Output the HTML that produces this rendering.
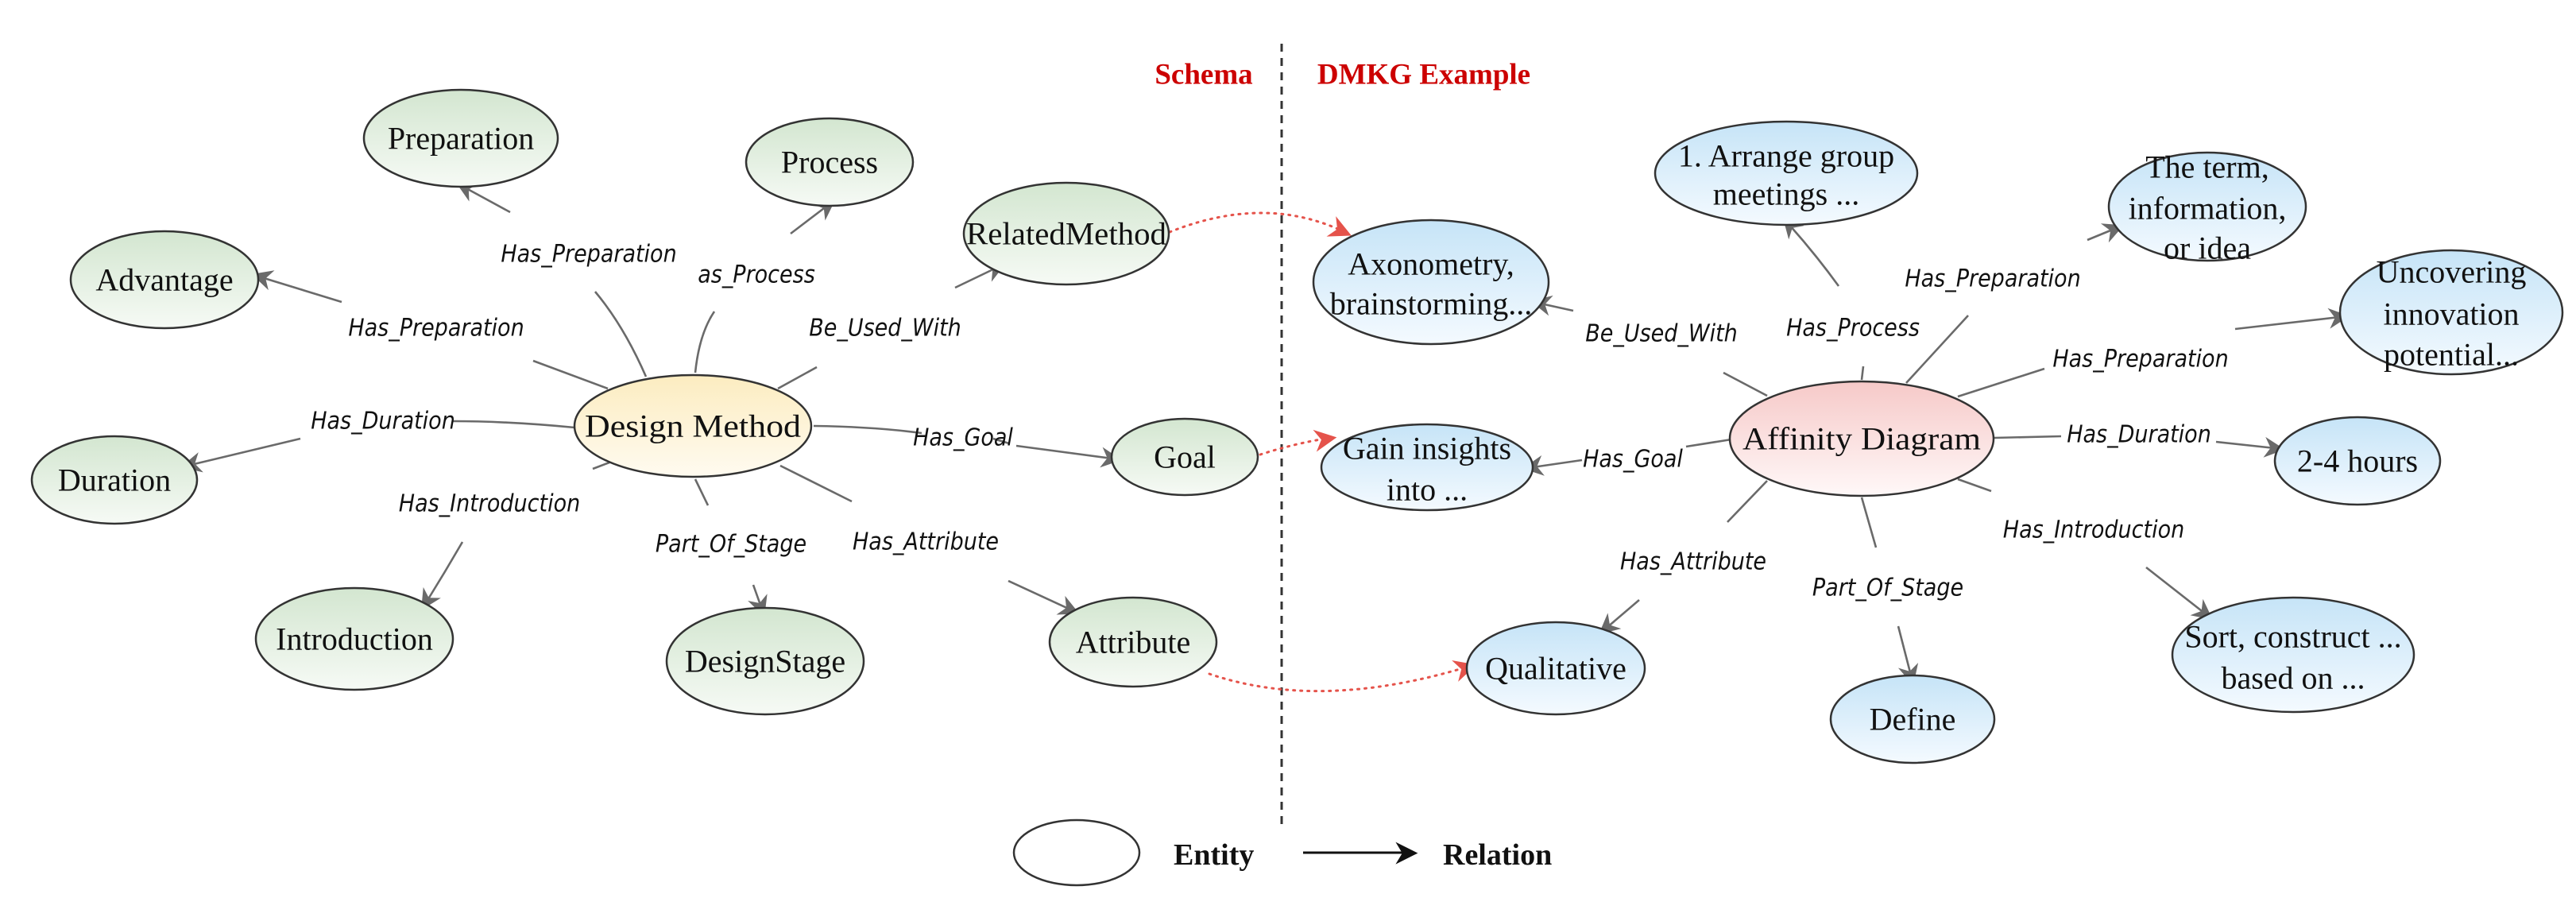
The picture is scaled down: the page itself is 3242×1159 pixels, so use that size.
<!DOCTYPE html>
<html><head><meta charset="utf-8"><style>
html,body{margin:0;padding:0;background:#fff;}
svg{display:block;}
.n{font-family:"Liberation Serif",serif;font-size:40px;fill:#111;text-anchor:middle;dominant-baseline:central;}
.l{font-family:"DejaVu Sans Condensed","DejaVu Sans",sans-serif;font-style:oblique;font-size:30px;fill:#111;text-anchor:middle;dominant-baseline:central;}
.e{stroke:#6a6a6a;stroke-width:2.6;fill:none;}
.a{stroke:#6a6a6a;stroke-width:2.6;fill:none;marker-end:url(#ar);}
.g{fill:url(#gg);stroke:#333;stroke-width:2.5;}
.b{fill:url(#gb);stroke:#333;stroke-width:2.5;}
.r{stroke:#e5534b;stroke-width:3;fill:none;stroke-dasharray:2 7;stroke-linecap:round;marker-end:url(#rr);}
</style></head><body>
<svg width="3242" height="1159" viewBox="0 0 3242 1159" xmlns="http://www.w3.org/2000/svg">
<defs>
<linearGradient id="gg" x1="0" y1="0" x2="0" y2="1"><stop offset="0" stop-color="#d3e6d0"/><stop offset="1" stop-color="#f6faf5"/></linearGradient>
<linearGradient id="gb" x1="0" y1="0" x2="0" y2="1"><stop offset="0" stop-color="#c6e4f7"/><stop offset="1" stop-color="#f4faff"/></linearGradient>
<linearGradient id="gy" x1="0" y1="0" x2="0" y2="1"><stop offset="0" stop-color="#fcecc0"/><stop offset="1" stop-color="#fffbf0"/></linearGradient>
<linearGradient id="gp" x1="0" y1="0" x2="0" y2="1"><stop offset="0" stop-color="#f6c9c8"/><stop offset="1" stop-color="#fff8f8"/></linearGradient>
<marker id="ar" markerWidth="10" markerHeight="10" refX="8" refY="5" orient="auto" markerUnits="userSpaceOnUse" viewBox="0 0 10 10" style="overflow:visible">
<path d="M0,0 L10,5 L0,10 L3,5 Z" fill="#6a6a6a" transform="scale(2.6) translate(-2,-3)"/></marker>
<marker id="rr" markerWidth="10" markerHeight="10" refX="8" refY="5" orient="auto" markerUnits="userSpaceOnUse" viewBox="0 0 10 10" style="overflow:visible">
<path d="M0,0 L10,5 L0,10 L3,5 Z" fill="#e5534b" transform="scale(2.8) translate(-2,-3)"/></marker>
<marker id="lg" markerWidth="10" markerHeight="10" refX="8" refY="5" orient="auto" markerUnits="userSpaceOnUse" viewBox="0 0 10 10" style="overflow:visible">
<path d="M0,0 L10,5 L0,10 L3,5 Z" fill="#111" transform="scale(2.8) translate(-2,-3)"/></marker>
</defs>

<line x1="1613" y1="55" x2="1613" y2="1040" stroke="#333" stroke-width="3" stroke-dasharray="10 8"/>
<text x="1515" y="94" font-family="Liberation Serif,serif" font-weight="bold" font-size="37" fill="#cc0000" text-anchor="middle" dominant-baseline="central">Schema</text>
<text x="1792" y="94" font-family="Liberation Serif,serif" font-weight="bold" font-size="37" fill="#cc0000" text-anchor="middle" dominant-baseline="central">DMKG Example</text>

<path class="e" d="M813,474 Q785,410 749,367"/>
<path class="a" d="M642,267 L585,236"/>
<path class="e" d="M875,469 Q880,420 899,392"/>
<path class="a" d="M995,294 L1041,259"/>
<path class="e" d="M765,489 L671,454"/>
<path class="a" d="M430,380 L329,349"/>
<path class="e" d="M979,489 L1028,462"/>
<path class="a" d="M1202,362 L1254,337"/>
<path class="e" d="M723,538 Q640,530 570,530"/>
<path class="a" d="M378,552 L240,585"/>
<path class="e" d="M1024,536 Q1100,537 1160,545"/>
<path class="e" d="M1250,552 L1270,558"/>
<path class="a" d="M1279,561 L1399,577"/>
<path class="e" d="M767,582 L746,590"/>
<path class="a" d="M582,682 Q560,720 537,757"/>
<path class="e" d="M875,603 L891,636"/>
<path class="a" d="M948,736 L958,764"/>
<path class="e" d="M982,586 L1072,631"/>
<path class="a" d="M1269,731 L1347,767"/>

<path class="e" d="M2345,461 L2343,478"/>
<path class="a" d="M2314,360 Q2285,320 2252,283"/>
<path class="e" d="M2399,482 L2477,397"/>
<path class="a" d="M2627,302 L2661,288"/>
<path class="e" d="M2464,499 L2573,464"/>
<path class="a" d="M2813,414 L2944,399"/>
<path class="e" d="M2224,498 L2169,469"/>
<path class="a" d="M1980,391 L1939,382"/>
<path class="e" d="M2179,553 L2122,562"/>
<path class="a" d="M1991,579 L1929,588"/>
<path class="e" d="M2509,551 L2594,549"/>
<path class="a" d="M2789,556 L2863,564"/>
<path class="e" d="M2464,603 L2506,618"/>
<path class="a" d="M2701,714 L2775,772"/>
<path class="e" d="M2343,626 L2361,689"/>
<path class="a" d="M2389,788 L2405,850"/>
<path class="e" d="M2224,605 L2174,657"/>
<path class="a" d="M2063,755 L2022,790"/>

<path class="r" d="M1472,292 Q1590,245 1688,290"/>
<path class="r" d="M1586,572 Q1630,558 1668,552"/>
<path class="r" d="M1522,848 Q1660,895 1844,840"/>

<ellipse class="g" cx="580" cy="174" rx="122" ry="61"/><text class="n" x="580" y="174">Preparation</text>
<ellipse class="g" cx="1044" cy="204" rx="105" ry="55"/><text class="n" x="1044" y="204">Process</text>
<ellipse class="g" cx="207" cy="352" rx="118" ry="61"/><text class="n" x="207" y="352">Advantage</text>
<ellipse class="g" cx="1342" cy="294" rx="129" ry="64"/><text class="n" x="1342" y="294" textLength="252" lengthAdjust="spacingAndGlyphs">RelatedMethod</text>
<ellipse cx="872" cy="536" rx="149" ry="64" fill="url(#gy)" stroke="#333" stroke-width="2.5"/><text class="n" x="872" y="536" textLength="272" lengthAdjust="spacingAndGlyphs">Design Method</text>
<ellipse class="g" cx="144" cy="604" rx="104" ry="55"/><text class="n" x="144" y="604">Duration</text>
<ellipse class="g" cx="1491" cy="575" rx="92" ry="48"/><text class="n" x="1491" y="575">Goal</text>
<ellipse class="g" cx="446" cy="804" rx="124" ry="64"/><text class="n" x="446" y="804">Introduction</text>
<ellipse class="g" cx="963" cy="832" rx="124" ry="67"/><text class="n" x="963" y="832">DesignStage</text>
<ellipse class="g" cx="1426" cy="808" rx="105" ry="56"/><text class="n" x="1426" y="808">Attribute</text>

<ellipse class="b" cx="2248" cy="218" rx="165" ry="65"/><text class="n" x="2248" y="196">1. Arrange group</text><text class="n" x="2248" y="244">meetings ...</text>
<ellipse class="b" cx="2778" cy="260" rx="124" ry="68"/><text class="n" x="2778" y="210">The term,</text><text class="n" x="2778" y="262">information,</text><text class="n" x="2778" y="312">or idea</text>
<ellipse class="b" cx="1801" cy="355" rx="148" ry="78"/><text class="n" x="1801" y="332">Axonometry,</text><text class="n" x="1801" y="382">brainstorming...</text>
<ellipse class="b" cx="3085" cy="393" rx="140" ry="78"/><text class="n" x="3085" y="342">Uncovering</text><text class="n" x="3085" y="395">innovation</text><text class="n" x="3085" y="446">potential...</text>
<ellipse cx="2343" cy="552" rx="166" ry="72" fill="url(#gp)" stroke="#333" stroke-width="2.5"/><text class="n" x="2343" y="552" textLength="300" lengthAdjust="spacingAndGlyphs">Affinity Diagram</text>
<ellipse class="b" cx="1796" cy="588" rx="133" ry="54"/><text class="n" x="1796" y="564">Gain insights</text><text class="n" x="1796" y="616">into ...</text>
<ellipse class="b" cx="2967" cy="580" rx="104" ry="55"/><text class="n" x="2967" y="580">2-4 hours</text>
<ellipse class="b" cx="1958" cy="841" rx="112" ry="58"/><text class="n" x="1958" y="841">Qualitative</text>
<ellipse class="b" cx="2407" cy="905" rx="103" ry="55"/><text class="n" x="2407" y="905">Define</text>
<ellipse class="b" cx="2886" cy="824" rx="152" ry="72"/><text class="n" x="2886" y="801">Sort, construct ...</text><text class="n" x="2886" y="853">based on  ...</text>

<text class="l" x="741" y="320">Has_Preparation</text>
<text class="l" x="952" y="346">as_Process</text>
<text class="l" x="549" y="413">Has_Preparation</text>
<text class="l" x="1114" y="413">Be_Used_With</text>
<text class="l" x="482" y="530">Has_Duration</text>
<text class="l" x="1212" y="551">Has_Goal</text>
<text class="l" x="616" y="634">Has_Introduction</text>
<text class="l" x="920" y="685">Part_Of_Stage</text>
<text class="l" x="1165" y="682">Has_Attribute</text>

<text class="l" x="2332" y="413">Has_Process</text>
<text class="l" x="2508" y="351">Has_Preparation</text>
<text class="l" x="2694" y="452">Has_Preparation</text>
<text class="l" x="2091" y="420">Be_Used_With</text>
<text class="l" x="2055" y="578">Has_Goal</text>
<text class="l" x="2692" y="547">Has_Duration</text>
<text class="l" x="2635" y="667">Has_Introduction</text>
<text class="l" x="2376" y="740">Part_Of_Stage</text>
<text class="l" x="2131" y="707">Has_Attribute</text>

<ellipse cx="1355" cy="1073" rx="79" ry="41" fill="#fff" stroke="#333" stroke-width="2.5"/>
<text x="1477" y="1088" font-family="Liberation Serif,serif" font-weight="bold" font-size="38" fill="#111">Entity</text>
<line x1="1640" y1="1073" x2="1770" y2="1073" stroke="#111" stroke-width="3" marker-end="url(#lg)"/>
<text x="1816" y="1088" font-family="Liberation Serif,serif" font-weight="bold" font-size="38" fill="#111">Relation</text>
</svg>
</body></html>
